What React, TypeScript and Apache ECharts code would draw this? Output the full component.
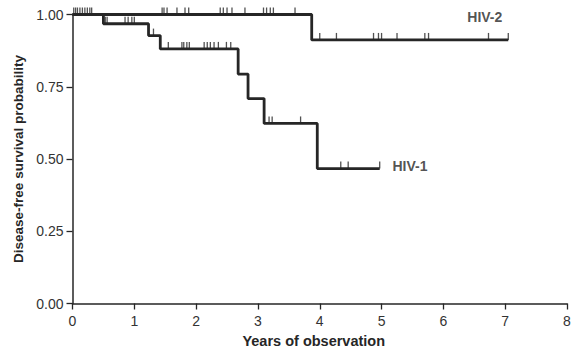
import React, { useEffect, useRef } from 'react';
import * as echarts from 'echarts';

const xTicks = [0, 1, 2, 3, 4, 5, 6, 7, 8];
const yTicks = [0, 0.25, 0.5, 0.75, 1];

// HIV-1: event times and survival after each event
const hiv1Times = [0.5, 1.23, 1.42, 2.68, 2.84, 3.1, 3.96];
const hiv1Surv = [0.968, 0.927, 0.881, 0.794, 0.709, 0.623, 0.467];
const hiv1End = 4.97;
const hiv1Censored = [0.53, 0.56, 0.85, 0.9, 0.96, 1.0, 1.31, 1.55, 1.77, 1.8, 1.85, 1.89, 2.13, 2.18, 2.23, 2.29, 2.36, 2.49, 2.56, 3.18, 3.23, 3.69, 4.34, 4.46, 4.97];

// HIV-2
const hiv2Times = [3.87];
const hiv2Surv = [0.912];
const hiv2End = 7.05;
const hiv2Censored = [0.02, 0.05, 0.08, 0.12, 0.16, 0.2, 0.24, 0.28, 0.31, 1.45, 1.48, 1.53, 1.69, 1.82, 1.88, 2.39, 2.44, 2.5, 2.58, 2.79, 3.09, 3.14, 3.2, 3.25, 3.6, 4.0, 4.27, 4.87, 4.95, 5.0, 5.25, 5.7, 5.76, 6.73, 7.05];

const labelHIV1 = { name: 'HIV-1', x: 5.46, y: 0.476 };
const labelHIV2 = { name: 'HIV-2', x: 6.67, y: 0.99 };

const INK = '#262626';
const FONT = "'Liberation Sans', Arial, sans-serif";

function stepPoints(times: number[], surv: number[], end: number) {
  const pts: number[][] = [[0, 1]];
  let cur = 1;
  times.forEach((t, i) => {
    pts.push([t, cur]);
    pts.push([t, surv[i]]);
    cur = surv[i];
  });
  pts.push([end, cur]);
  return pts;
}

function levelAt(times: number[], surv: number[], x: number) {
  let cur = 1;
  times.forEach((t, i) => {
    if (t <= x) cur = surv[i];
  });
  return cur;
}

export default function App() {
  const ref = useRef<HTMLDivElement>(null);
  useEffect(() => {
    document.body.style.margin = '0';
    const chart = echarts.init(ref.current!, null, { renderer: 'svg' });
    const tickSeries = (data: number[][]) => ({
      type: 'scatter',
      data,
      symbol: 'rect',
      symbolSize: [1.3, 7],
      symbolOffset: [0, -3.5],
      itemStyle: { color: INK },
      silent: true,
      z: 3,
    });
    const labelSeries = (l: { name: string; x: number; y: number }) => ({
      type: 'scatter',
      data: [[l.x, l.y]],
      symbolSize: 0,
      silent: true,
      label: {
        show: true,
        position: 'inside',
        formatter: l.name,
        fontFamily: FONT,
        fontWeight: 'bold',
        fontSize: 14,
        color: INK,
      },
    });
    chart.setOption({
      animation: false,
      backgroundColor: '#fff',
      grid: { left: 72.5, right: 12, top: 14.5, bottom: 45.5, outerBoundsMode: 'none' },
      xAxis: {
        type: 'value',
        min: xTicks[0],
        max: xTicks[xTicks.length - 1],
        interval: 1,
        name: 'Years of observation',
        nameLocation: 'middle',
        nameGap: 30,
        nameTextStyle: { fontFamily: FONT, fontWeight: 'bold', fontSize: 14.5, color: INK, padding: [0, 12, 0, 0] },
        axisLine: { show: true, onZero: false, lineStyle: { color: INK, width: 1.5 } },
        axisTick: { show: true, length: 6, lineStyle: { color: INK, width: 1.3 } },
        axisLabel: { fontFamily: FONT, fontSize: 14, color: '#333', margin: 10 },
        splitLine: { show: false },
      },
      yAxis: {
        type: 'value',
        min: yTicks[0],
        max: yTicks[yTicks.length - 1],
        interval: 0.25,
        name: 'Disease-free survival probability',
        nameLocation: 'middle',
        nameGap: 42,
        nameTextStyle: { fontFamily: FONT, fontWeight: 'bold', fontSize: 13.5, color: INK },
        axisLine: { show: true, onZero: false, lineStyle: { color: INK, width: 1.5 } },
        axisTick: { show: true, length: 6, lineStyle: { color: INK, width: 1.3 } },
        axisLabel: {
          fontFamily: FONT,
          fontSize: 14,
          color: '#333',
          margin: 9,
          formatter: (v: number) => v.toFixed(2),
        },
        splitLine: { show: false },
      },
      series: [
        {
          type: 'line',
          data: stepPoints(hiv2Times, hiv2Surv, hiv2End),
          symbol: 'none',
          lineStyle: { color: INK, width: 2.8 },
          z: 2,
        },
        {
          type: 'line',
          data: stepPoints(hiv1Times, hiv1Surv, hiv1End),
          symbol: 'none',
          lineStyle: { color: INK, width: 2.8 },
          z: 2,
        },
        tickSeries(hiv2Censored.map((t) => [t, levelAt(hiv2Times, hiv2Surv, t)])),
        tickSeries(hiv1Censored.map((t) => [t, levelAt(hiv1Times, hiv1Surv, t)])),
        labelSeries(labelHIV1),
        labelSeries(labelHIV2),
      ],
    });
    return () => chart.dispose();
  }, []);
  return <div ref={ref} style={{ width: 579, height: 349 }} />;
}
